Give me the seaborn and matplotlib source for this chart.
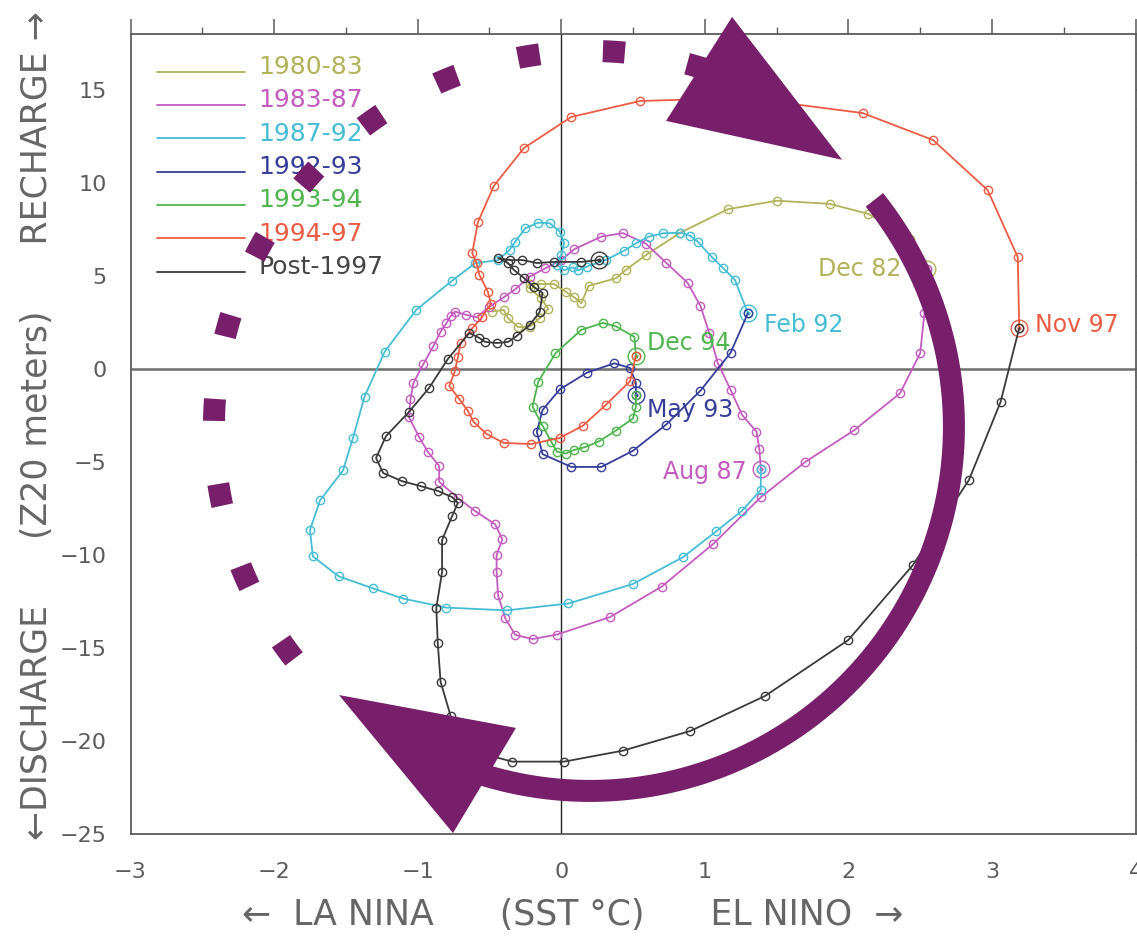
"""
Recharge / discharge phase diagram of ENSO (SST vs Z20) with the purple
clockwise-cycle arrows drawn on top.
"""

import numpy as np
import matplotlib
matplotlib.use("Agg")
import matplotlib.pyplot as plt
from matplotlib.ticker import MultipleLocator
import seaborn as sns

# ── data: SST anomaly (°C) and Z20 anomaly (m) ──────────────────────────────
LABELS = ["1980-83", "1983-87", "1987-92", "1992-93", "1993-94", "1994-97", "Post-1997"]
COLORS = ["#b2b25a", "#c45cc0", "#46bdd4", "#363e99", "#4fb54f", "#ec5c45", "#3a3a3a"]

SST_8083 = [-0.48, -0.40, -0.37, -0.30, -0.22, -0.15, -0.09, -0.14, -0.22, -0.22, -0.14, -0.05,
            0.03, 0.09, 0.14, 0.19, 0.38, 0.45, 0.59, 0.83, 1.16, 1.50, 1.87, 2.14, 2.43, 2.55]
Z20_8083 = [3.08, 3.17, 2.72, 2.24, 2.27, 2.72, 3.22, 3.80, 4.33, 4.56, 4.56, 4.56,
            4.15, 3.85, 3.53, 4.46, 4.87, 5.32, 6.12, 7.32, 8.58, 9.04, 8.87, 8.33, 6.97, 5.35]

SST_8387 = [2.55, 2.53, 2.50, 2.36, 2.04, 1.70, 1.39, 1.06, 0.70, 0.34, -0.03, -0.20, -0.32, -0.39,
            -0.44, -0.45, -0.45, -0.41, -0.46, -0.60, -0.72, -0.85, -0.85, -0.93, -0.99, -1.06,
            -1.05, -1.03, -0.96, -0.89, -0.84, -0.80, -0.77, -0.74, -0.66, -0.59, -0.50, -0.40,
            -0.32, -0.22, -0.11, 0.00, 0.09, 0.28, 0.43, 0.59, 0.73, 0.88, 0.97, 1.03, 1.09,
            1.18, 1.26, 1.36, 1.38, 1.39]
Z20_8387 = [5.35, 3.00, 0.84, -1.31, -3.30, -5.00, -6.90, -9.40, -11.70, -13.34, -14.28, -14.52,
            -14.30, -13.41, -12.17, -10.91, -9.99, -9.16, -8.36, -7.64, -6.94, -6.07, -5.22,
            -4.45, -3.66, -2.60, -1.64, -0.77, 0.26, 1.23, 2.00, 2.45, 2.84, 3.08, 2.90, 2.77,
            3.34, 3.85, 4.28, 4.96, 5.41, 5.85, 6.43, 7.11, 7.30, 6.73, 5.71, 4.63, 3.38, 1.95,
            0.33, -1.13, -2.48, -3.37, -4.30, -5.37]

SST_8792 = [1.39, 1.39, 1.26, 1.08, 0.85, 0.50, 0.05, -0.38, -0.80, -1.10, -1.31, -1.55, -1.73,
            -1.75, -1.68, -1.52, -1.45, -1.37, -1.23, -1.01, -0.76, -0.60, -0.44, -0.36, -0.32,
            -0.25, -0.16, -0.08, -0.01, 0.02, 0.00, -0.03, 0.02, 0.08, 0.12, 0.18, 0.31, 0.44,
            0.52, 0.61, 0.71, 0.83, 0.90, 0.95, 1.05, 1.13, 1.21, 1.30]
Z20_8792 = [-5.37, -6.51, -7.62, -8.73, -10.11, -11.56, -12.61, -12.98, -12.83, -12.35, -11.80,
            -11.15, -10.08, -8.66, -7.07, -5.46, -3.70, -1.49, 0.92, 3.17, 4.74, 5.68, 5.85,
            6.39, 6.84, 7.56, 7.86, 7.83, 7.38, 6.75, 6.10, 5.60, 5.30, 5.46, 5.30, 5.50, 5.85,
            6.36, 6.75, 7.11, 7.29, 7.32, 7.15, 6.84, 6.00, 5.40, 4.78, 2.99]

SST_9293 = [1.30, 1.18, 0.97, 0.73, 0.50, 0.28, 0.07, -0.13, -0.17, -0.13, -0.01, 0.18, 0.37,
            0.48, 0.52, 0.52]
Z20_9293 = [2.99, 0.87, -1.17, -3.00, -4.40, -5.27, -5.27, -4.58, -3.38, -2.21, -1.10, -0.20,
            0.30, 0.05, -0.74, -1.40]

SST_9394 = [0.52, 0.52, 0.50, 0.38, 0.26, 0.16, 0.09, 0.03, -0.03, -0.07, -0.13, -0.20, -0.16,
            -0.04, 0.14, 0.29, 0.38, 0.51, 0.52]
Z20_9394 = [-1.40, -2.03, -2.66, -3.32, -3.91, -4.22, -4.36, -4.55, -4.45, -3.91, -3.05, -2.03,
            -0.69, 0.84, 2.10, 2.47, 2.29, 1.72, 0.70]

SST_9497 = [0.52, 0.48, 0.31, 0.15, -0.01, -0.21, -0.40, -0.52, -0.61, -0.65, -0.71, -0.78,
            -0.74, -0.72, -0.70, -0.62, -0.55, -0.49, -0.51, -0.57, -0.59, -0.62, -0.58, -0.47,
            -0.26, 0.07, 0.55, 0.99, 1.55, 2.10, 2.59, 2.97, 3.18, 3.19]
Z20_9497 = [0.70, -0.65, -1.94, -3.06, -3.71, -4.04, -3.98, -3.50, -2.85, -2.26, -1.62, -0.92,
            -0.11, 0.64, 1.39, 2.18, 2.80, 3.50, 4.13, 5.05, 5.70, 6.23, 7.89, 9.83, 11.87,
            13.54, 14.40, 14.50, 14.30, 13.75, 12.30, 9.61, 6.00, 2.20]

SST_POST = [3.19, 3.06, 2.84, 2.45, 2.00, 1.42, 0.90, 0.43, 0.02, -0.34, -0.70, -0.77, -0.84,
            -0.86, -0.87, -0.83, -0.83, -0.76, -0.72, -0.76, -0.86, -0.98, -1.11, -1.24, -1.29,
            -1.22, -1.06, -0.92, -0.79, -0.64, -0.57, -0.53, -0.45, -0.37, -0.31, -0.22, -0.15,
            -0.13, -0.19, -0.26, -0.33, -0.37, -0.44, -0.36, -0.27, -0.17, -0.05, 0.14, 0.26]
Z20_POST = [2.20, -1.78, -5.97, -10.54, -14.57, -17.58, -19.46, -20.52, -21.11, -21.11, -20.38,
            -18.66, -16.83, -14.74, -12.85, -10.92, -9.20, -7.91, -7.21, -6.89, -6.56, -6.30,
            -6.03, -5.60, -4.79, -3.61, -2.31, -1.02, 0.53, 1.93, 1.66, 1.45, 1.39, 1.45, 1.77,
            2.36, 3.06, 4.08, 4.40, 4.89, 5.32, 5.69, 5.96, 5.85, 5.85, 5.69, 5.75, 5.75, 5.85]

SST = [SST_8083, SST_8387, SST_8792, SST_9293, SST_9394, SST_9497, SST_POST]
Z20 = [Z20_8083, Z20_8387, Z20_8792, Z20_9293, Z20_9394, Z20_9497, Z20_POST]

# month labels at the end of each period: text, anchor (x, y), alignment
END_TEXT = ["Dec 82", "Aug 87", "Feb 92", "May 93", "Dec 94", "Nov 97", None]
END_POS  = [(2.37, 5.35), (1.29, -5.55), (1.41, 2.35), (0.60, -2.2), (0.60, 1.40), (3.30, 2.35), None]
END_HA   = ["right", "right", "left", "left", "left", "left", None]

# purple overlay (cycle arrows)
PURPLE      = "#781f6c"
ARC_CENTER  = (0.20, -3.12)       # data units
ARC_R_SOLID = 364                 # pixels
ARC_R_DOTS  = 376                 # pixels
SOLID_DEG   = (38.6, -108.0)
DOTS_DEG    = (218.1, 71.7)
HEAD_TOP    = [(1.19, 18.92), (0.73, 13.33), (1.956, 11.24)]
HEAD_BOTTOM = [(-1.548, -17.53), (-0.315, -19.30), (-0.754, -24.95)]

sns.set_style("white")
plt.rcParams["font.family"] = ["DejaVu Sans"]

GREY = "#5c5c5c"

fig = plt.figure(figsize=(11.37, 9.39), dpi=100)
ax = fig.add_axes([0.11478, 0.11182, 0.88391, 0.85197])
ax.set_xlim(-3, 4)
ax.set_ylim(-25, 18)

ax.axhline(0, color="#6e6e6e", lw=1.8, zorder=1)
ax.axvline(0, color="#222222", lw=1.0, zorder=1)

for xs, ys, col, end_txt, pos, ha in zip(SST, Z20, COLORS, END_TEXT, END_POS, END_HA):
    sns.lineplot(x=xs, y=ys, sort=False, estimator=None, ax=ax, color=col, lw=1.3,
                 marker="o", markersize=6, markerfacecolor="none",
                 markeredgecolor=col, markeredgewidth=1.0, legend=False, zorder=3)
    # ring around the last month of each period
    ax.plot(xs[-1], ys[-1], "o", ms=12, mfc="none", mec=col, mew=1.0, zorder=3)
    ax.plot(xs[-1], ys[-1], "o", ms=2, color=col, zorder=3)
    if end_txt:
        ax.text(pos[0], pos[1], end_txt, color=col, fontsize=17, ha=ha, va="center", zorder=4)

# legend, drawn by hand (coloured text, line without markers)
for i, (lab, col) in enumerate(zip(LABELS, COLORS)):
    yy = 0.9529 - i * 0.04163
    ax.plot([0.0264, 0.1139], [yy, yy], color=col, lw=1.3, transform=ax.transAxes, zorder=4)
    ax.text(0.1269, yy - 0.003, lab, color=col if lab != "Post-1997" else "#444444",
            fontsize=18, ha="left", va="baseline", transform=ax.transAxes, zorder=4)

# ticks / spines
ax.xaxis.set_major_locator(MultipleLocator(1))
ax.xaxis.set_minor_locator(MultipleLocator(0.5))
ax.yaxis.set_major_locator(MultipleLocator(5))
ax.yaxis.set_minor_locator(MultipleLocator(1))
ax.tick_params(which="both", direction="out", top=True, right=True, color=GREY,
               labelcolor=GREY, labelsize=16)
ax.tick_params(which="major", length=11, width=1.1)
ax.tick_params(which="minor", length=5, width=1.0)
ax.tick_params(axis="x", which="major", pad=9)
ax.tick_params(axis="y", which="major", pad=6)
for sp in ax.spines.values():
    sp.set_color(GREY)
    sp.set_linewidth(1.3)

ax.set_xlabel("←  LA NINA      (SST °C)      EL NINO  →", fontsize=25, color="#666666")
ax.xaxis.label.set_va("center")
ax.xaxis.set_label_coords(0.44, -0.101)
ax.set_ylabel("←DISCHARGE      (Z20 meters)      RECHARGE →", fontsize=25, color="#666666")
ax.yaxis.label.set_va("center")
ax.yaxis.set_label_coords(-0.093, 0.511)

# ── purple cycle arrows ─────────────────────────────────────────────────────
fig.canvas.draw()
p0 = ax.transData.transform((0, 0))
px_x = ax.transData.transform((1, 0))[0] - p0[0]
px_y = ax.transData.transform((0, 1))[1] - p0[1]
lw_pt = 22 * 72 / fig.dpi

def arc(r_px, deg):
    t = np.radians(np.linspace(deg[0], deg[1], 300))
    return (ARC_CENTER[0] + r_px / px_x * np.cos(t),
            ARC_CENTER[1] + r_px / px_y * np.sin(t))

ax_, ay_ = arc(ARC_R_SOLID, SOLID_DEG)
ax.plot(ax_, ay_, color=PURPLE, lw=lw_pt, solid_capstyle="butt", zorder=6, clip_on=False)
dx_, dy_ = arc(ARC_R_DOTS, DOTS_DEG)
ax.plot(dx_, dy_, color=PURPLE, lw=lw_pt, linestyle=(0, (1.0, 2.88)),
        dash_capstyle="butt", zorder=6, clip_on=False)
for head in (HEAD_TOP, HEAD_BOTTOM):
    hx, hy = zip(*head)
    ax.fill(hx, hy, color=PURPLE, lw=0, zorder=7, clip_on=False)

plt.savefig("out.png", dpi=100)
plt.close()
